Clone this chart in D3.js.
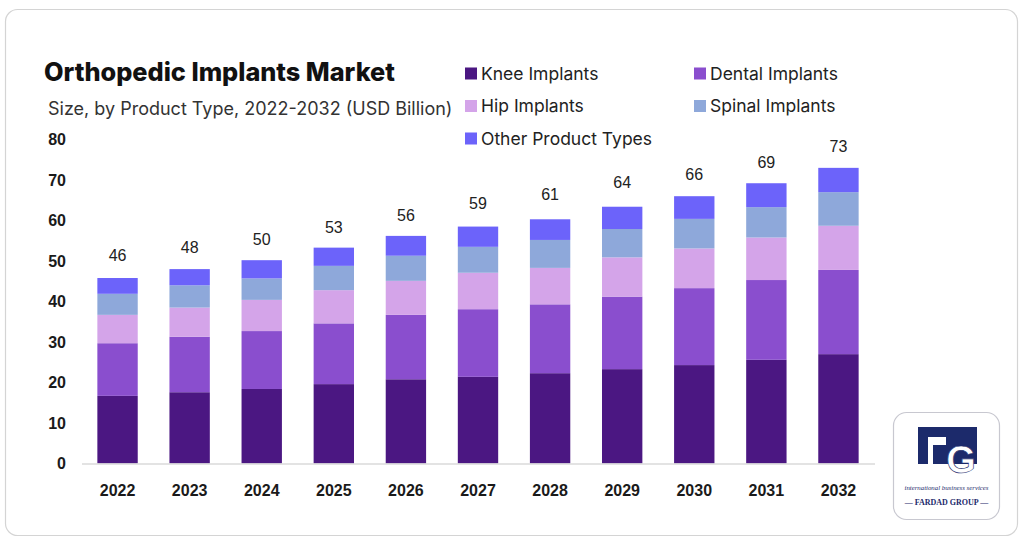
<!DOCTYPE html>
<html>
<head>
<meta charset="utf-8">
<script src="https://cdn.jsdelivr.net/npm/d3@7"></script>
<style>
  html, body { margin: 0; padding: 0; background: #ffffff; }
  svg { display: block; }
</style>
</head>
<body>
<svg id="chart" width="1024" height="544"></svg>
<script>
// ---- data ----
const years = ["2022","2023","2024","2025","2026","2027","2028","2029","2030","2031","2032"];
const seriesNames = ["Knee Implants","Dental Implants","Hip Implants","Spinal Implants","Other Product Types"];
const knee   = [16.7, 17.6, 18.4, 19.6, 20.8, 21.4, 22.3, 23.3, 24.3, 25.6, 27.0];
const dental = [13.0, 13.7, 14.3, 15.0, 15.9, 16.7, 17.0, 17.9, 19.0, 19.7, 20.8];
const hip    = [ 7.0,  7.2,  7.7,  8.2,  8.4,  9.0,  9.0,  9.7,  9.8, 10.5, 10.9];
const spinal = [ 5.2,  5.5,  5.3,  6.0,  6.2,  6.4,  6.9,  7.0,  7.3,  7.5,  8.3];
const other  = [ 3.9,  4.0,  4.5,  4.5,  4.9,  5.0,  5.1,  5.5,  5.6,  5.9,  6.0];
const totals = [46, 48, 50, 53, 56, 59, 61, 64, 66, 69, 73];
const yTicks = [0, 10, 20, 30, 40, 50, 60, 70, 80];
const colors = ["#4b1782", "#8a4ece", "#d4a4e9", "#8ea8da", "#6c63fa"];

const rows = years.map((y, i) => ({
  year: y,
  "Knee Implants": knee[i],
  "Dental Implants": dental[i],
  "Hip Implants": hip[i],
  "Spinal Implants": spinal[i],
  "Other Product Types": other[i],
  total: totals[i]
}));

const svg = d3.select("#chart");
const sans = "Inter, 'Noto Sans', sans-serif";
const arial = "'Liberation Sans', Arial, sans-serif";

// card
svg.append("rect")
  .attr("x", 5.5).attr("y", 9.5).attr("width", 1012).attr("height", 526)
  .attr("rx", 12).attr("fill", "#fff").attr("stroke", "#d4d4d4").attr("stroke-width", 1.2);

// scales
const x = d3.scaleBand().domain(years).range([81.5, 874.5]).paddingInner(0.44).paddingOuter(0.22);
const y = d3.scaleLinear().domain([0, 80]).range([463.5, 139.5]);
const color = d3.scaleOrdinal().domain(seriesNames).range(colors);

const stacked = d3.stack().keys(seriesNames)(rows);

// bars
svg.append("g").selectAll("g").data(stacked).join("g")
  .attr("fill", d => color(d.key))
  .selectAll("rect").data(d => d).join("rect")
  .attr("x", d => x(d.data.year))
  .attr("width", x.bandwidth())
  .attr("y", d => y(d[1]))
  .attr("height", d => y(d[0]) - y(d[1]));

// x axis
const xAxis = svg.append("g").attr("transform", "translate(0,463.5)")
  .call(d3.axisBottom(x).tickSize(0).tickPadding(21));
xAxis.select(".domain").attr("stroke", "#dadada").attr("stroke-width", 1.5);
xAxis.selectAll("text")
  .attr("font-family", arial).attr("font-weight", "bold").attr("font-size", 16).attr("fill", "#1a1a1a");

// y axis
const yAxis = svg.append("g").attr("transform", "translate(72,0)")
  .call(d3.axisLeft(y).tickValues(yTicks).tickSize(0).tickPadding(6));
yAxis.select(".domain").remove();
yAxis.selectAll("text")
  .attr("font-family", arial).attr("font-weight", "bold").attr("font-size", 16).attr("fill", "#1a1a1a");

// value labels
svg.append("g").selectAll("text").data(rows).join("text")
  .attr("x", d => x(d.year) + x.bandwidth() / 2)
  .attr("y", d => y(d.total) - 16)
  .attr("text-anchor", "middle")
  .attr("font-family", arial).attr("font-size", 16).attr("fill", "#222")
  .text(d => d.total);

// title
svg.append("text").attr("x", 44).attr("y", 81)
  .attr("font-family", sans).attr("font-weight", 800).attr("font-size", 25.3).attr("fill", "#111")
  .text("Orthopedic Implants Market");
svg.append("text").attr("x", 48).attr("y", 115)
  .attr("font-family", sans).attr("font-size", 18).attr("fill", "#333")
  .text("Size, by Product Type, 2022-2032 (USD Billion)");

// legend
const legendPos = [[465, 73.5], [694, 73.5], [465, 106], [694, 106], [465, 138.5]];
const lg = svg.append("g").selectAll("g").data(seriesNames).join("g")
  .attr("transform", (d, i) => `translate(${legendPos[i][0]},${legendPos[i][1]})`);
lg.append("rect").attr("x", 0).attr("y", -6).attr("width", 12).attr("height", 12)
  .attr("fill", d => color(d));
lg.append("text").attr("x", 16).attr("y", 0).attr("dy", "0.35em")
  .attr("font-family", sans).attr("font-size", 17.5).attr("fill", "#222")
  .text(d => d);

// logo
const logo = svg.append("g");
logo.append("rect").attr("x", 893.5).attr("y", 412.5).attr("width", 106).attr("height", 107)
  .attr("rx", 13).attr("fill", "#fff").attr("stroke", "#c8c8d0").attr("stroke-width", 1.2);
const navy = "#1c2a6b";
logo.append("rect").attr("x", 918).attr("y", 427).attr("width", 59).attr("height", 37).attr("fill", navy);
logo.append("rect").attr("x", 928).attr("y", 437).attr("width", 5).attr("height", 27).attr("fill", "#fff");
logo.append("rect").attr("x", 928).attr("y", 437).attr("width", 18).attr("height", 8).attr("fill", "#fff");
logo.append("rect").attr("x", 933).attr("y", 452).attr("width", 11).attr("height", 12).attr("fill", navy);
logo.append("text").attr("x", 961).attr("y", 473).attr("text-anchor", "middle")
  .attr("font-family", arial).attr("font-weight", "bold").attr("font-size", 38).attr("fill", "#fff")
  .attr("stroke", navy).attr("stroke-width", 0.6)
  .text("G");
logo.append("text").attr("x", 946.5).attr("y", 490).attr("text-anchor", "middle")
  .attr("font-family", "'Liberation Serif', serif").attr("font-style", "italic").attr("font-size", 7).attr("fill", navy)
  .attr("textLength", 84).attr("lengthAdjust", "spacingAndGlyphs")
  .text("international business services");
logo.append("text").attr("x", 946.5).attr("y", 505).attr("text-anchor", "middle")
  .attr("font-family", "'Liberation Serif', serif").attr("font-weight", "bold").attr("font-size", 8).attr("fill", navy)
  .text("— FARDAD GROUP —");
</script>
</body>
</html>
